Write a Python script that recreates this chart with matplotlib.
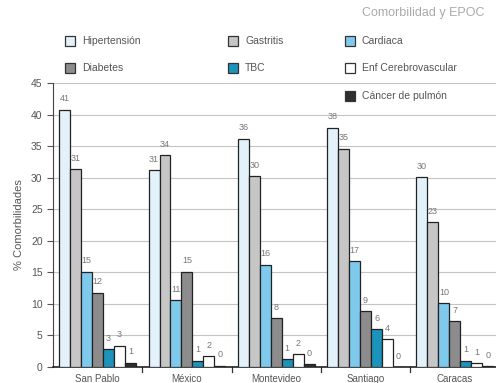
import numpy as np
import matplotlib.pyplot as plt
from matplotlib.patches import Rectangle

plt.rcParams['font.family'] = ['Liberation Sans', 'DejaVu Sans']

ciudades = ["San Pablo", "México", "Montevideo", "Santiago", "Caracas"]
series = ["Hipertensión", "Gastritis", "Cardiaca", "Diabetes", "TBC",
          "Enf Cerebrovascular", "Cáncer de pulmón"]
colores = ["#e2f1fa", "#c6c6c6", "#7fcaec", "#8c8c8c", "#1b93bd", "#ffffff", "#2f2f2f"]

hipertension = [40.8, 31.2, 36.2, 37.9, 30.1]
gastritis = [31.3, 33.6, 30.2, 34.6, 22.9]
cardiaca = [15.1, 10.6, 16.2, 16.8, 10.1]
diabetes = [11.8, 15.1, 7.7, 8.8, 7.3]
tbc = [2.8, 1.0, 1.2, 6.0, 1.0]
cerebrovascular = [3.4, 1.7, 2.0, 4.4, 0.6]
cancer = [0.7, 0.2, 0.4, 0.0, 0.1]

valores = [hipertension, gastritis, cardiaca, diabetes, tbc, cerebrovascular, cancer]

W, H = 496, 383
fig = plt.figure(figsize=(W / 100, H / 100), dpi=100)
ax = fig.add_axes([53 / W, 16 / H, (W - 53) / W, 284 / H])

x = np.arange(len(ciudades))
w = 0.123
for k, (vals, c) in enumerate(zip(valores, colores)):
    pos = x + (k - 3) * w
    ax.bar(pos, vals, width=w, color=c, edgecolor="#222222", linewidth=0.9, zorder=3)
    for p, v in zip(pos, vals):
        ax.text(p, v + 1.0, f"{v:.0f}", ha="center", va="bottom",
                fontsize=6.5, color="#777777", zorder=4)

ax.set_xlim(-0.5, 4.46)
ax.set_ylim(0, 45)
ax.set_yticks(range(0, 46, 5))
ax.tick_params(axis="y", labelsize=7.5, colors="#555555", length=4, width=0.8)
ax.set_xticks(x)
ax.set_xticklabels(ciudades, fontsize=7, color="#555555")
ax.tick_params(axis="x", length=0, pad=5)
for b in x[:-1] + 0.5:
    ax.plot([b, b], [0, -0.8], color="#333333", lw=0.9, clip_on=False)
ax.yaxis.grid(True, color="#c4c4c4", lw=0.8, zorder=0)
ax.set_axisbelow(True)
for s in ["top", "right"]:
    ax.spines[s].set_visible(False)
ax.spines["left"].set_color("#444444")
ax.spines["bottom"].set_color("#222222")
ax.spines["bottom"].set_linewidth(1.2)
ax.set_ylabel("% Comorbilidades", fontsize=8, color="#555555", labelpad=5)

# leyenda dibujada a mano en tres columnas
leyenda_pos = {
    "Hipertensión": (65, 41), "Gastritis": (228, 41), "Cardiaca": (345, 41),
    "Diabetes": (65, 68), "TBC": (228, 68), "Enf Cerebrovascular": (345, 68),
    "Cáncer de pulmón": (345, 96),
}
for nombre, c in zip(series, colores):
    px, py = leyenda_pos[nombre]
    fig.patches.append(Rectangle((px / W, (H - py - 5) / H), 10 / W, 10 / H,
                                 transform=fig.transFigure, facecolor=c,
                                 edgecolor="#333333", linewidth=0.9))
    fig.text((px + 17) / W, (H - py) / H, nombre, fontsize=7.5, color="#555555",
             va="center", ha="left")

fig.text(362 / W, (H - 13) / H, "Comorbilidad y EPOC", fontsize=9,
         color="#aaaaaa", va="center", ha="left")

fig.savefig("out.png", dpi=100)
